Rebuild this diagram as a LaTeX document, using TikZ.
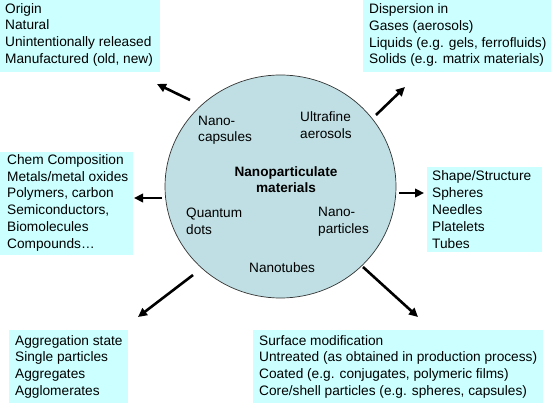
\documentclass[tikz,border=0pt]{standalone}
\usepackage{fontspec}
\setmainfont{Liberation Sans}
\usetikzlibrary{arrows.meta,shapes.geometric}
\definecolor{boxfill}{RGB}{204,255,255}
\definecolor{circfill}{RGB}{191,223,228}
\begin{document}
\begin{tikzpicture}[x=1pt,y=-1pt,
  box/.style={fill=boxfill, draw=none, anchor=north west, inner sep=0pt},
  boxtxt/.style={anchor=west, inner sep=0pt, align=left, font=\fontsize{13.7}{16.8}\selectfont},
  lbl/.style={inner sep=0pt, align=left, anchor=west, font=\fontsize{13.6}{16.5}\selectfont},
  arr/.style={line width=2.6pt, -{Triangle[length=9pt,width=8.5pt]}}]
\useasboundingbox (0,0) rectangle (551,403);
% central circle
\node[draw=black!80, line width=0.7pt, fill=circfill, ellipse, minimum width=231pt, minimum height=223pt, inner sep=0pt] (core) at (280.5,186.5) {};
\node[lbl, anchor=center, align=center, font=\fontsize{13.6}{16}\selectfont\bfseries] (title) at (286,180) {Nanoparticulate\\materials};
\node[lbl] (caps) at (198,130) {Nano-\\capsules};
\node[lbl] (aero) at (300,125) {Ultrafine\\aerosols};
\node[lbl] (qdots) at (186,221.5) {Quantum\\dots};
\node[lbl] (npart) at (318,221.5) {Nano-\\particles};
\node[lbl] (ntubes) at (249,268) {Nanotubes};
% boxes
\node[box, minimum width=160pt, minimum height=72pt] (origin) at (0,0) {};
\node[boxtxt] (origintxt) at ([xshift=5pt,yshift=1.5pt]origin.west) {Origin\\Natural\\Unintentionally released\\Manufactured (old, new)};
\node[box, minimum width=188pt, minimum height=72pt] (disp) at (363,0) {};
\node[boxtxt] (disptxt) at ([xshift=6pt,yshift=1pt]disp.west) {Dispersion in\\Gases (aerosols)\\Liquids (e.g. gels, ferrofluids)\\Solids (e.g. matrix materials)};
\node[box, minimum width=115pt, minimum height=85pt] (shape) at (427,167) {};
\node[boxtxt] (shapetxt) at ([xshift=5pt]shape.west) {Shape/Structure\\Spheres\\Needles\\Platelets\\Tubes};
\node[box, minimum width=133pt, minimum height=103pt] (chem) at (0,152) {};
\node[boxtxt] (chemtxt) at ([xshift=7pt,yshift=1pt]chem.west) {Chem Composition\\Metals/metal oxides\\Polymers, carbon\\Semiconductors,\\Biomolecules\\Compounds\dots};
\node[box, minimum width=119pt, minimum height=73pt] (aggr) at (9,330) {};
\node[boxtxt] (aggrtxt) at ([xshift=6pt]aggr.west) {Aggregation state\\Single particles\\Aggregates\\Agglomerates};
\node[box, minimum width=290pt, minimum height=73pt] (surf) at (253,330) {};
\node[boxtxt] (surftxt) at ([xshift=6pt]surf.west) {Surface modification\\Untreated (as obtained in production process)\\Coated (e.g. conjugates, polymeric films)\\Core/shell particles (e.g. spheres, capsules)};
% arrow end points
\coordinate (t1) at (190,100); \coordinate (h1) at (157,84);
\coordinate (t2) at (376,115); \coordinate (h2) at (405,87);
\coordinate (t3) at (399,193); \coordinate (h3) at (424,193);
\coordinate (t4) at (162,198); \coordinate (h4) at (134,198);
\coordinate (t5) at (193,275); \coordinate (h5) at (138,317);
\coordinate (t6) at (363,267); \coordinate (h6) at (418,317);
\draw[arr] (t1) -- (h1);
\draw[arr] (t2) -- (h2);
\draw[arr] (t3) -- (h3);
\draw[arr] (t4) -- (h4);
\draw[arr] (t5) -- (h5);
\draw[arr] (t6) -- (h6);
\end{tikzpicture}
\end{document}
